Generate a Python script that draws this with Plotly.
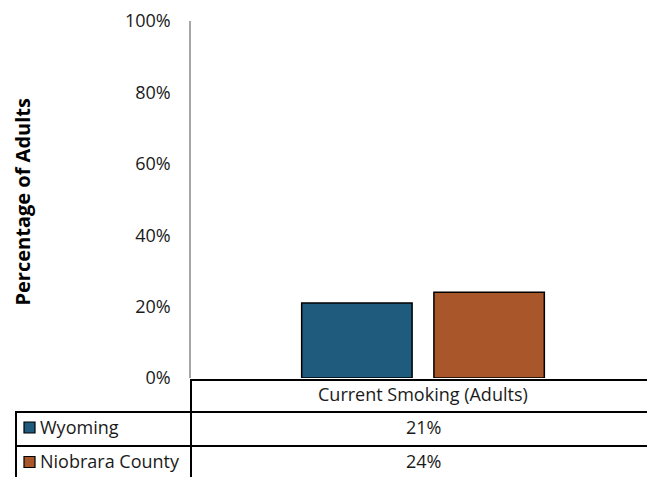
import plotly.graph_objects as go

# ---- data ----
categories = ["Current Smoking (Adults)"]
series_names = ["Wyoming", "Niobrara County"]
wyoming = [21]
niobrara = [24]
series_values = [wyoming, niobrara]
colors = ["#1F5B7C", "#A9572A"]
y_ticks = [0, 20, 40, 60, 80, 100]
y_title = "Percentage of Adults"

OFF = 8  # page body margin
W, H = 655 - OFF, 477 - OFF
# plot area in page pixels
PL, PR, PT, PB = 191, 655, 21, 378

def px(x):
    return (x - PL) / (PR - PL)

def py(y):
    return (PB - y) / (PB - PT)

FONT = "Open Sans"
FS = 18
TXT = "#1a1a1a"
fig = go.Figure()
for name, vals, col in zip(series_names, series_values, colors):
    fig.add_trace(go.Bar(
        x=categories, y=vals, name=name,
        marker=dict(color=col, line=dict(color="black", width=1.5)),
        hoverinfo="skip",
    ))

shapes = []
line = dict(color="black", width=2)
# table lines
shapes.append(dict(type="line", xref="paper", yref="paper", x0=px(191), x1=1.02, y0=py(380), y1=py(380), line=line))
shapes.append(dict(type="line", xref="paper", yref="paper", x0=px(15), x1=1.02, y0=py(412), y1=py(412), line=line))
shapes.append(dict(type="line", xref="paper", yref="paper", x0=px(15), x1=1.02, y0=py(446), y1=py(446), line=line))
shapes.append(dict(type="line", xref="paper", yref="paper", x0=px(191), x1=px(191), y0=py(379), y1=py(490), line=line))
shapes.append(dict(type="line", xref="paper", yref="paper", x0=px(16), x1=px(16), y0=py(411), y1=py(490), line=line))

annotations = []
annotations.append(dict(x=categories[0], xref="x", y=py(394), yref="paper", text=categories[0],
                        xanchor="center", yanchor="middle",
                        showarrow=False, font=dict(family=FONT, size=FS, color=TXT)))
row_y = [427, 461]
sw_y = [427.5, 462]
for i, (name, vals, col) in enumerate(zip(series_names, series_values, colors)):
    annotations.append(dict(x=categories[0], xref="x", y=py(row_y[i]), yref="paper", text=f"{vals[0]}%",
                            xanchor="center", yanchor="middle",
                            showarrow=False, font=dict(family=FONT, size=FS, color=TXT)))
    annotations.append(dict(x=px(38), xref="paper", xanchor="left", y=py(row_y[i]), yref="paper", text=name,
                            yanchor="middle",
                            showarrow=False, font=dict(family=FONT, size=FS, color=TXT)))
    shapes.append(dict(type="rect", xref="paper", yref="paper",
                       x0=px(24), x1=px(35), y0=py(sw_y[i] - 5.5), y1=py(sw_y[i] + 5.5),
                       fillcolor=col, line=dict(color="black", width=1.2)))

annotations.append(dict(x=px(22), xref="paper", y=py(202.5), yref="paper", text=f"<b>{y_title}</b>",
                        xanchor="center", yanchor="middle",
                        textangle=-90, showarrow=False, font=dict(family=FONT, size=20, color="black")))

fig.update_layout(
    width=W, height=H,
    margin=dict(l=PL - OFF, r=W + OFF - PR, t=PT - OFF, b=H + OFF - PB, pad=0),
    plot_bgcolor="white", paper_bgcolor="white",
    barmode="group", bargap=0.43, bargroupgap=0.165,
    showlegend=False,
    font=dict(family=FONT, size=FS, color=TXT),
    xaxis=dict(showticklabels=False, ticks="", showgrid=False, showline=False, zeroline=False),
    yaxis=dict(range=[0, 100], tickvals=y_ticks, ticktext=[f"{v}%" for v in y_ticks],
               showgrid=False, zeroline=False, showline=True, linecolor="#A6A6A6", linewidth=1.5,
               ticks="", ticklabelstandoff=15, tickfont=dict(family=FONT, size=FS, color=TXT)),
    shapes=shapes, annotations=annotations,
)
fig.write_html("out.html")
